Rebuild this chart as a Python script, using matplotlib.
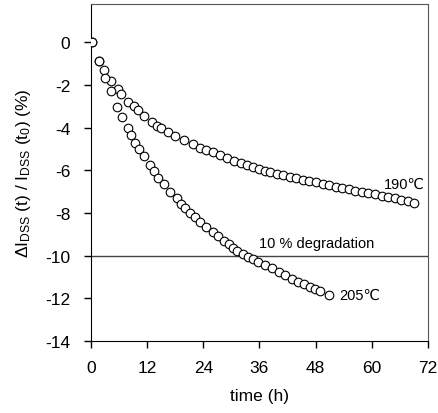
import matplotlib
matplotlib.use('Agg')
import matplotlib.pyplot as plt

plt.rcParams['font.family'] = ['Liberation Sans', 'DejaVu Sans']
plt.rcParams['mathtext.fontset'] = 'custom'
plt.rcParams['mathtext.rm'] = 'Liberation Sans'
plt.rcParams['mathtext.it'] = 'Liberation Sans:italic'
plt.rcParams['axes.unicode_minus'] = False

# 190 C
t_190 = [0.3, 1.7, 2.7, 4.3, 5.8, 6.4, 8.0, 9.2, 10.0, 11.4, 13.1, 14.1, 15.0,
         16.4, 18.0, 19.8, 21.7, 23.3, 24.6, 26.1, 27.6, 29.0, 30.6, 32.0,
         33.3, 34.7, 36.0, 37.2, 38.3, 39.7, 41.1, 42.5, 43.9, 45.3, 46.7,
         48.1, 49.5, 50.9, 52.3, 53.7, 55.1, 56.5, 57.9, 59.3, 60.7, 62.1,
         63.5, 64.9, 66.3, 67.7, 69.1]
d_190 = [0, -0.88, -1.3, -1.81, -2.19, -2.42, -2.78, -3.0, -3.19, -3.44, -3.72,
         -3.9, -4.03, -4.19, -4.37, -4.56, -4.75, -4.94, -5.04, -5.15, -5.28,
         -5.43, -5.56, -5.65, -5.75, -5.84, -5.93, -6.01, -6.06, -6.15, -6.22,
         -6.3, -6.37, -6.44, -6.5, -6.57, -6.63, -6.7, -6.76, -6.82, -6.89,
         -6.95, -7.0, -7.06, -7.12, -7.18, -7.24, -7.3, -7.37, -7.44, -7.52]

# 205 C
t_205 = [0.3, 1.7, 2.9, 4.2, 5.6, 6.6, 7.8, 8.5, 9.5, 10.3, 11.3, 12.6, 13.5,
         14.4, 15.5, 16.9, 18.3, 19.2, 20.1, 21.2, 22.2, 23.3, 24.6, 26.0,
         27.2, 28.4, 29.4, 30.3, 31.3, 32.4, 33.5, 34.6, 35.8, 37.2, 38.6,
         40.1, 41.5, 42.9, 44.3, 45.6, 46.8, 47.9, 49.0, 50.8]
d_205 = [0, -0.88, -1.67, -2.3, -3.05, -3.5, -4.0, -4.34, -4.7, -5.0, -5.35,
         -5.75, -6.05, -6.35, -6.65, -7.0, -7.32, -7.57, -7.78, -8.0, -8.2,
         -8.42, -8.67, -8.9, -9.1, -9.3, -9.47, -9.62, -9.76, -9.9, -10.05,
         -10.18, -10.3, -10.45, -10.6, -10.77, -10.93, -11.08, -11.22, -11.35,
         -11.45, -11.55, -11.65, -11.83]

x_ticks = [0, 12, 24, 36, 48, 60, 72]
y_ticks = [0, -2, -4, -6, -8, -10, -12, -14]
limit = -10

fig = plt.figure(figsize=(4.38, 4.14), dpi=100)
ax = fig.add_axes([0.2078, 0.174, 0.769, 0.814])

ax.axhline(limit, color='#444444', lw=1.0, zorder=1)
ax.plot(t_190, d_190, 'o', ms=6.2, mfc='white', mec='black', mew=0.8, zorder=3)
ax.plot(t_205, d_205, 'o', ms=6.2, mfc='white', mec='black', mew=0.8, zorder=3)

ax.text(36.0, -9.6, '10 % degradation', fontsize=10.5)
ax.text(62.5, -6.8, '190℃', fontsize=10.5)
ax.text(53.0, -11.85, '205℃', fontsize=10.5, va='center')

ax.set_xlim(0, 72)
ax.set_ylim(-14, 1.8)
ax.set_xticks(x_ticks)
ax.set_yticks(y_ticks)
ax.tick_params(direction='out', length=5, width=1, labelsize=12.5, top=False, right=False)
ax.tick_params(axis='x', pad=9)
ax.tick_params(axis='y', pad=10)
ax.spines['top'].set_color('#555555')
ax.spines['right'].set_color('#555555')

ax.set_xlabel('time (h)', fontsize=12.5, labelpad=9)
ax.set_ylabel(r'$\Delta$I$_{\rm DSS}$ (t) / I$_{\rm DSS}$ (t$_{\rm 0}$) (%)', fontsize=12.5, labelpad=9)

fig.savefig('out.png', dpi=100)
